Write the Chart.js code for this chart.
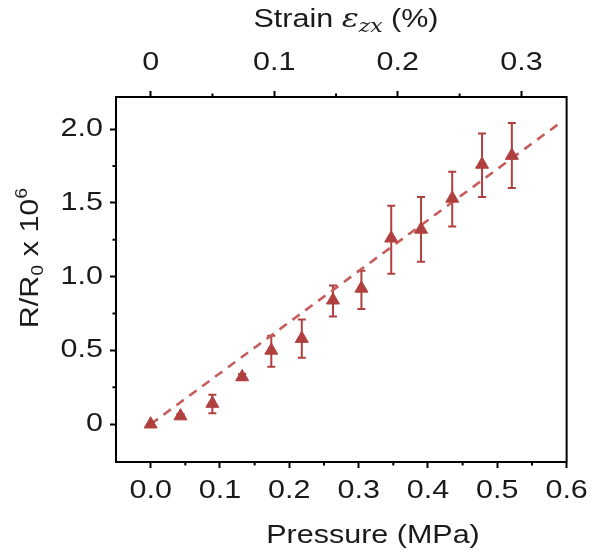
<!DOCTYPE html>
<html><head><meta charset="utf-8">
<script src="https://cdn.jsdelivr.net/npm/chart.js@4"></script>
<style>html,body{margin:0;padding:0;background:#fff}</style>
</head><body>
<canvas id="c" width="592" height="556" style="width:592px;height:556px;display:block"></canvas>
<script>
// ---- data ----
const pressure = [0, 0.043, 0.089, 0.132, 0.174, 0.218, 0.263, 0.304, 0.347, 0.390, 0.435, 0.478, 0.521];
const ratio    = [0.0, 0.055, 0.14, 0.32, 0.50, 0.58, 0.84, 0.92, 1.26, 1.32, 1.53, 1.76, 1.82];
const errUpper = [0.0, 0.07, 0.20, 0.34, 0.60, 0.71, 0.94, 1.04, 1.48, 1.54, 1.71, 1.97, 2.04];
const errLower = [0.0, 0.04, 0.075, 0.30, 0.39, 0.45, 0.73, 0.78, 1.02, 1.10, 1.34, 1.54, 1.60];
const fitPressure = [0, 0.59];
const fitRatio    = [0, 2.04];
// ---- axis ticks ----
const pressureTicks = [0, 0.1, 0.2, 0.3, 0.4, 0.5, 0.6];
const pressureMinor = [0.05, 0.15, 0.25, 0.35, 0.45, 0.55];
const strainTicks = [0, 0.1, 0.2, 0.3];
const strainMinor = [0.05, 0.15, 0.25];
const ratioTicks = [0, 0.5, 1.0, 1.5, 2.0];
const ratioMinor = [0.25, 0.75, 1.25, 1.75];
const strainPerPressure = 0.561;

const MARK = '#b0403f';
const FIT = '#c65c5c';
const FONT = "'Liberation Sans', Arial, sans-serif";
const TEXT = '#1a1a1a';
const SX = 1.22; // horizontal widening of the lettering, as in the reference

// widen every text run horizontally around its anchor point
const widenTextPlugin = {
  id: 'widenText',
  beforeDraw(chart) {
    const ctx = chart.ctx;
    if (ctx.__widened) return;
    const orig = ctx.fillText;
    ctx.fillText = function (t, x, y) {
      this.save();
      this.translate(x, y);
      this.scale(SX, 1);
      orig.call(this, t, 0, 0);
      this.restore();
    };
    ctx.__widened = true;
  }
};

const errorBarPlugin = {
  id: 'errorBars',
  beforeDatasetsDraw(chart) {
    const {ctx, scales: {x, y}} = chart;
    ctx.save();
    ctx.strokeStyle = MARK;
    ctx.lineWidth = 2;
    pressure.forEach((p, i) => {
      if (errUpper[i] - errLower[i] <= 0) return;
      const px = x.getPixelForValue(p);
      const yt = y.getPixelForValue(errUpper[i]);
      const yb = y.getPixelForValue(errLower[i]);
      ctx.beginPath();
      ctx.moveTo(px, yt); ctx.lineTo(px, yb);
      ctx.moveTo(px - 4, yt); ctx.lineTo(px + 4, yt);
      ctx.moveTo(px - 4, yb); ctx.lineTo(px + 4, yb);
      ctx.stroke();
    });
    ctx.restore();
  }
};

function drawParts(ctx, parts, cx, by) {
  let w = 0;
  parts.forEach(p => { ctx.font = p.f; p.w = ctx.measureText(p.t).width * SX; w += p.w; });
  let x = cx - w / 2;
  ctx.textAlign = 'left';
  parts.forEach(p => { ctx.font = p.f; ctx.fillText(p.t, x, by + p.dy); x += p.w; });
}

const framePlugin = {
  id: 'frame',
  afterDraw(chart) {
    const {ctx, chartArea: ca, scales} = chart;
    ctx.save();
    ctx.strokeStyle = '#000';
    ctx.lineWidth = 2;
    // right spine
    ctx.beginPath();
    ctx.moveTo(ca.right, ca.top - 1); ctx.lineTo(ca.right, ca.bottom + 1);
    ctx.stroke();
    // minor ticks
    ctx.beginPath();
    pressureMinor.forEach(v => { const px = scales.x.getPixelForValue(v); ctx.moveTo(px, ca.bottom); ctx.lineTo(px, ca.bottom + 3.5); });
    strainMinor.forEach(v => { const px = scales.x2.getPixelForValue(v); ctx.moveTo(px, ca.top); ctx.lineTo(px, ca.top - 3.5); });
    ratioMinor.forEach(v => { const py = scales.y.getPixelForValue(v); ctx.moveTo(ca.left, py); ctx.lineTo(ca.left - 3.5, py); });
    ctx.stroke();

    ctx.fillStyle = TEXT;
    ctx.textBaseline = 'alphabetic';
    // top axis title: Strain ε_zx (%)
    drawParts(ctx, [
      {t: 'Strain ', f: `25px ${FONT}`, dy: 0},
      {t: 'ε', f: `italic 26px 'DejaVu Serif', serif`, dy: 0},
      {t: 'zx', f: `italic 18px 'DejaVu Serif', serif`, dy: 5},
      {t: ' (%)', f: `25px ${FONT}`, dy: 0}
    ], 346, 27);
    // bottom axis title
    drawParts(ctx, [{t: 'Pressure (MPa)', f: `25px ${FONT}`, dy: 0}], 373, 543);
    // left axis title: R/R0 x 10^6
    ctx.save();
    ctx.translate(38, 258);
    ctx.rotate(-Math.PI / 2);
    drawParts(ctx, [
      {t: 'R/R', f: `25px ${FONT}`, dy: 0},
      {t: '0', f: `16px ${FONT}`, dy: 5},
      {t: ' x 10', f: `25px ${FONT}`, dy: 0},
      {t: '6', f: `16px ${FONT}`, dy: -11}
    ], 0, 0);
    ctx.restore();
    ctx.restore();
  }
};

const tickFont = {family: FONT, size: 25};
const axisCommon = {
  border: {display: true, color: '#000', width: 2},
  grid: {drawOnChartArea: false, drawTicks: true, tickLength: 6, tickWidth: 2, tickColor: '#000'}
};

new Chart(document.getElementById('c'), {
  type: 'scatter',
  data: {
    datasets: [
      {
        data: pressure.map((p, i) => ({x: p, y: ratio[i]})),
        pointStyle: 'triangle', pointRadius: 7.5, pointHoverRadius: 7.5,
        backgroundColor: MARK, borderColor: MARK, borderWidth: 1,
        showLine: false, order: 0
      },
      {
        type: 'line',
        data: fitPressure.map((p, i) => ({x: p, y: fitRatio[i]})),
        borderColor: FIT, borderWidth: 2.6, borderDash: [9, 7],
        pointRadius: 0, fill: false, order: 1
      }
    ]
  },
  options: {
    responsive: false, animation: false, devicePixelRatio: 1,
    layout: {padding: {left: 0, right: 24, top: 0, bottom: 0}},
    plugins: {legend: {display: false}, tooltip: {enabled: false}},
    scales: {
      x: {
        ...axisCommon, type: 'linear', position: 'bottom', min: -0.05, max: 0.6,
        afterBuildTicks: s => { s.ticks = pressureTicks.map(v => ({value: v})); },
        afterFit: s => { s.height = 94; },
        ticks: {font: tickFont, color: TEXT, padding: 8, maxRotation: 0, callback: v => v.toFixed(1)},
        title: {display: false, text: 'Pressure (MPa)'}
      },
      x2: {
        ...axisCommon, type: 'linear', position: 'top',
        min: -0.05 * strainPerPressure, max: 0.6 * strainPerPressure,
        afterBuildTicks: s => { s.ticks = strainTicks.map(v => ({value: v})); },
        afterFit: s => { s.height = 97; },
        ticks: {font: tickFont, color: TEXT, padding: 13, maxRotation: 0, callback: v => v === 0 ? '0' : v.toFixed(1)}
      },
      y: {
        ...axisCommon, type: 'linear', position: 'left', min: -0.256, max: 2.217,
        afterBuildTicks: s => { s.ticks = ratioTicks.map(v => ({value: v})); },
        afterFit: s => { s.width = 116; },
        ticks: {font: tickFont, color: TEXT, padding: 7, callback: v => v === 0 ? '0' : v.toFixed(1)}
      }
    }
  },
  plugins: [widenTextPlugin, errorBarPlugin, framePlugin]
});
</script>
</body></html>
